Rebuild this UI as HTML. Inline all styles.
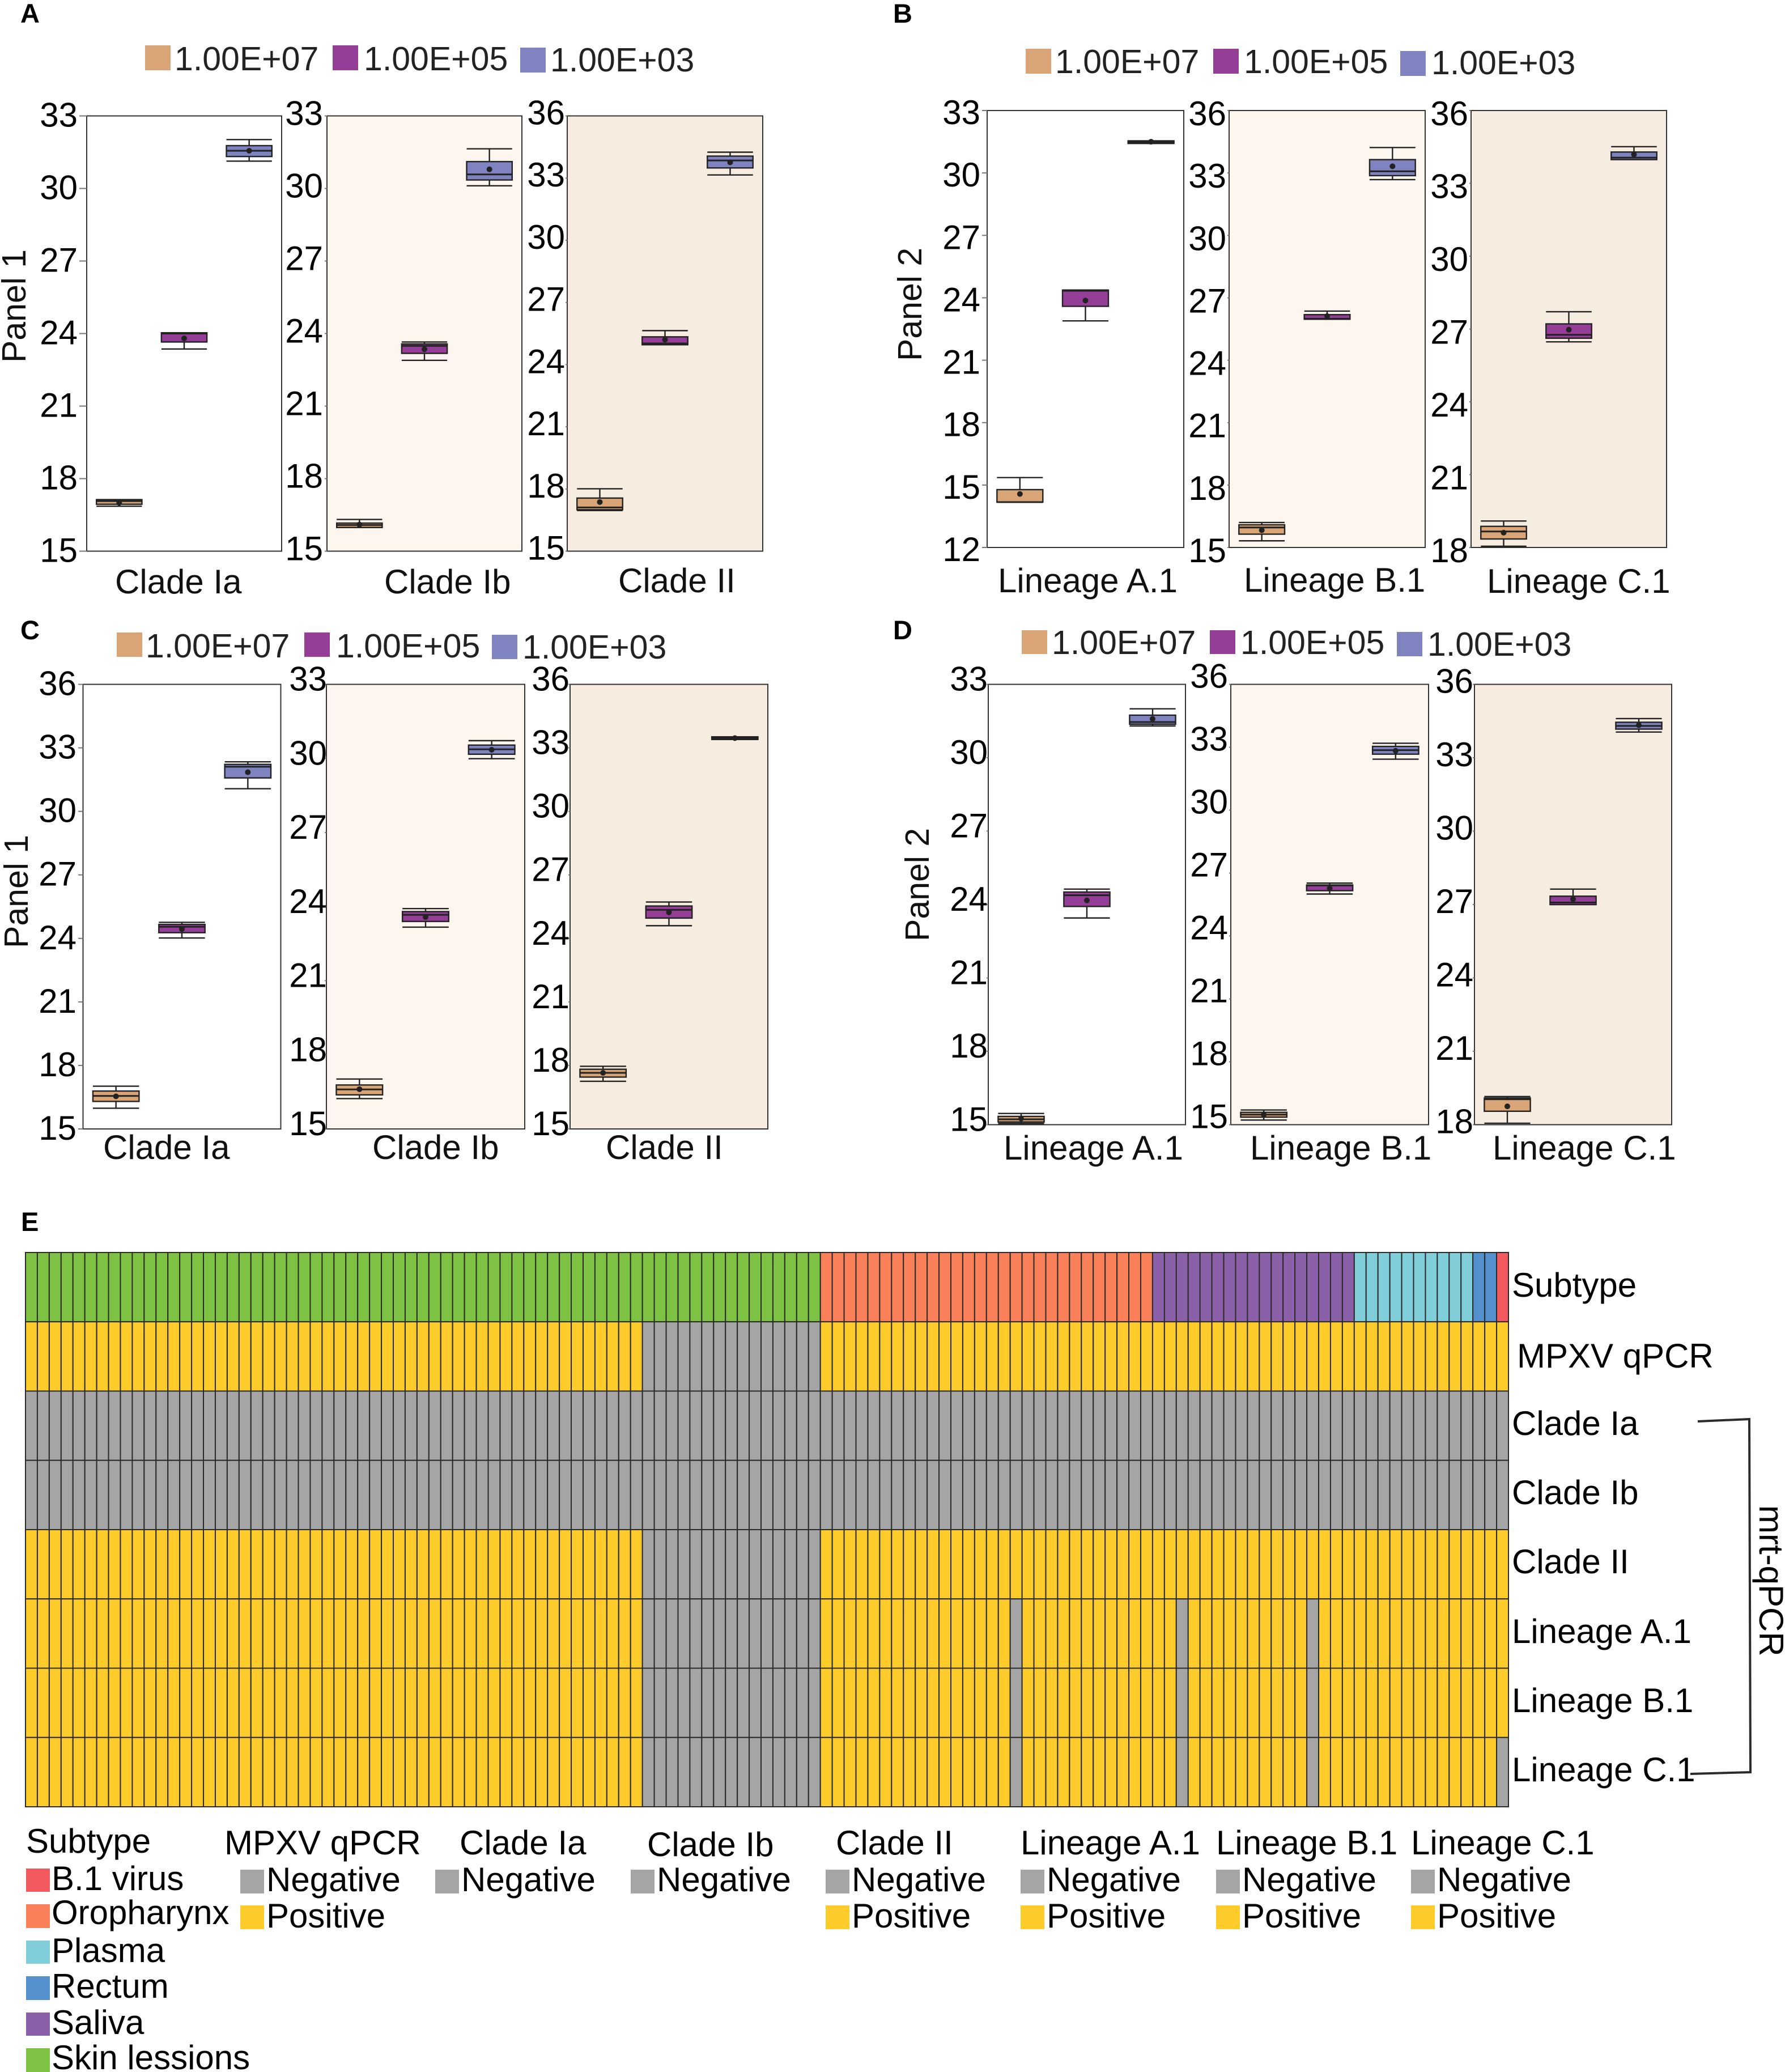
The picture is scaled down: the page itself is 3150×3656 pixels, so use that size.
<!DOCTYPE html>
<html lang="en">
<head>
<meta charset="utf-8">
<title>mrt-qPCR box plots and heatmap</title>
<style>
html,body{margin:0;padding:0;background:#fff;}
svg{display:block;}
text{font-family:"Liberation Sans",sans-serif;}
.lg{font-size:59px;fill:#222;}
.lb{font-size:60px;fill:#111;}
.pl{font-size:47px;font-weight:bold;fill:#000;}
.yt{font-size:59px;fill:#111;}
.hl{font-size:60px;fill:#000;}
</style>
</head>
<body>
<svg id="figure" xmlns="http://www.w3.org/2000/svg" width="3150" height="3656" viewBox="0 0 3150 3656">
<rect x="0" y="0" width="3150" height="3656" fill="#fff"/>

<g id="plots"></g>
<g id="heatmap"></g>

<!-- panel letters -->
<text class="pl" x="36" y="40">A</text>
<text class="pl" x="1576" y="40">B</text>
<text class="pl" x="36" y="1128">C</text>
<text class="pl" x="1576" y="1128">D</text>
<text class="pl" x="37" y="2172">E</text>

<!-- legend A -->
<g>
<rect x="256" y="80" width="45" height="44" fill="#D9A577"/>
<text class="lg" x="308" y="124">1.00E+07</text>
<rect x="587" y="80" width="45" height="44" fill="#953E97"/>
<text class="lg" x="642" y="124">1.00E+05</text>
<rect x="918" y="84" width="45" height="44" fill="#7F84C0"/>
<text class="lg" x="971" y="126">1.00E+03</text>
</g>
<!-- legend B -->
<g>
<rect x="1810" y="86" width="45" height="44" fill="#D9A577"/>
<text class="lg" x="1862" y="129">1.00E+07</text>
<rect x="2141" y="86" width="45" height="44" fill="#953E97"/>
<text class="lg" x="2195" y="129">1.00E+05</text>
<rect x="2471" y="90" width="45" height="44" fill="#7F84C0"/>
<text class="lg" x="2526" y="131">1.00E+03</text>
</g>
<!-- legend C -->
<g>
<rect x="206" y="1116" width="45" height="43" fill="#D9A577"/>
<text class="lg" x="257" y="1160">1.00E+07</text>
<rect x="537" y="1116" width="45" height="43" fill="#953E97"/>
<text class="lg" x="593" y="1160">1.00E+05</text>
<rect x="868" y="1120" width="45" height="43" fill="#7F84C0"/>
<text class="lg" x="922" y="1162">1.00E+03</text>
</g>
<!-- legend D -->
<g>
<rect x="1803" y="1112" width="45" height="42" fill="#D9A577"/>
<text class="lg" x="1856" y="1154">1.00E+07</text>
<rect x="2135" y="1112" width="45" height="42" fill="#953E97"/>
<text class="lg" x="2189" y="1154">1.00E+05</text>
<rect x="2465" y="1115" width="45" height="43" fill="#7F84C0"/>
<text class="lg" x="2519" y="1157">1.00E+03</text>
</g>

<!-- y axis titles -->
<text class="yt" transform="translate(45,640) rotate(-90)">Panel 1</text>
<text class="yt" transform="translate(1626,637) rotate(-90)">Panel 2</text>
<text class="yt" transform="translate(49,1673) rotate(-90)">Panel 1</text>
<text class="yt" transform="translate(1639,1661) rotate(-90)">Panel 2</text>

<!-- x labels -->
<text class="lb" x="203" y="1047">Clade Ia</text>
<text class="lb" x="678" y="1047">Clade Ib</text>
<text class="lb" x="1091" y="1045">Clade II</text>
<text class="lb" x="1761" y="1045">Lineage A.1</text>
<text class="lb" x="2195" y="1044">Lineage B.1</text>
<text class="lb" x="2624" y="1046">Lineage C.1</text>
<text class="lb" x="182" y="2045">Clade Ia</text>
<text class="lb" x="657" y="2045">Clade Ib</text>
<text class="lb" x="1069" y="2045">Clade II</text>
<text class="lb" x="1771" y="2046">Lineage A.1</text>
<text class="lb" x="2206" y="2046">Lineage B.1</text>
<text class="lb" x="2634" y="2046">Lineage C.1</text>

<!-- heatmap row labels -->
<text class="hl" x="2668" y="2288">Subtype</text>
<text class="hl" x="2677" y="2413">MPXV qPCR</text>
<text class="hl" x="2668" y="2532">Clade Ia</text>
<text class="hl" x="2668" y="2654">Clade Ib</text>
<text class="hl" x="2668" y="2776">Clade II</text>
<text class="hl" x="2668" y="2899">Lineage A.1</text>
<text class="hl" x="2668" y="3021">Lineage B.1</text>
<text class="hl" x="2668" y="3143">Lineage C.1</text>
<polyline points="2996,2508 3087,2504 3089,3127 2983,3130" fill="none" stroke="#2b2b2b" stroke-width="4"/>
<text class="hl" transform="translate(3105,2656) rotate(90)">mrt-qPCR</text>

<!-- heatmap legend -->
<g>
<text class="hl" x="46" y="3269">Subtype</text>
<rect x="46" y="3297" width="42" height="41" fill="#F35A60"/>
<text class="hl" x="91" y="3335">B.1 virus</text>
<rect x="46" y="3360" width="42" height="42" fill="#F98058"/>
<text class="hl" x="91" y="3395">Oropharynx</text>
<rect x="46" y="3424" width="42" height="41" fill="#80CED9"/>
<text class="hl" x="91" y="3462">Plasma</text>
<rect x="46" y="3487" width="42" height="42" fill="#5590CE"/>
<text class="hl" x="91" y="3525">Rectum</text>
<rect x="46" y="3551" width="42" height="41" fill="#8A60A8"/>
<text class="hl" x="91" y="3589">Saliva</text>
<rect x="46" y="3614" width="42" height="42" fill="#7DC242"/>
<text class="hl" x="91" y="3651">Skin lessions</text>

<text class="hl" x="396" y="3272">MPXV qPCR</text>
<rect x="424" y="3299" width="42" height="42" fill="#A5A5A5"/>
<text class="hl" x="470" y="3337">Negative</text>
<rect x="424" y="3362" width="42" height="42" fill="#FDCC2B"/>
<text class="hl" x="470" y="3401">Positive</text>

<text class="hl" x="811" y="3272">Clade Ia</text>
<rect x="768" y="3299" width="42" height="42" fill="#A5A5A5"/>
<text class="hl" x="814" y="3337">Negative</text>

<text class="hl" x="1142" y="3275">Clade Ib</text>
<rect x="1113" y="3299" width="42" height="42" fill="#A5A5A5"/>
<text class="hl" x="1159" y="3337">Negative</text>

<text class="hl" x="1475" y="3272">Clade II</text>
<rect x="1457" y="3299" width="42" height="42" fill="#A5A5A5"/>
<text class="hl" x="1503" y="3337">Negative</text>
<rect x="1457" y="3362" width="42" height="42" fill="#FDCC2B"/>
<text class="hl" x="1503" y="3401">Positive</text>

<text class="hl" x="1801" y="3272">Lineage A.1</text>
<rect x="1801" y="3299" width="42" height="42" fill="#A5A5A5"/>
<text class="hl" x="1847" y="3337">Negative</text>
<rect x="1801" y="3362" width="42" height="42" fill="#FDCC2B"/>
<text class="hl" x="1847" y="3401">Positive</text>

<text class="hl" x="2146" y="3272">Lineage B.1</text>
<rect x="2146" y="3299" width="42" height="42" fill="#A5A5A5"/>
<text class="hl" x="2192" y="3337">Negative</text>
<rect x="2146" y="3362" width="42" height="42" fill="#FDCC2B"/>
<text class="hl" x="2192" y="3401">Positive</text>

<text class="hl" x="2490" y="3272">Lineage C.1</text>
<rect x="2490" y="3299" width="42" height="42" fill="#A5A5A5"/>
<text class="hl" x="2536" y="3337">Negative</text>
<rect x="2490" y="3362" width="42" height="42" fill="#FDCC2B"/>
<text class="hl" x="2536" y="3401">Positive</text>
</g>
</svg>

<script>
// Each box array: [whisker low, q1, median, q3, whisker high, mean]
const concentrations = ['1.00E+07', '1.00E+05', '1.00E+03'];
const ticks33to15 = [33, 30, 27, 24, 21, 18, 15];
const ticks36to15 = [36, 33, 30, 27, 24, 21, 18, 15];
const ticks33to12 = [33, 30, 27, 24, 21, 18, 15, 12];
const ticks36to18 = [36, 33, 30, 27, 24, 21, 18];

const aCladeIa1e7 = [16.86, 16.94, 17.07, 17.13, 17.13, 17.0];
const aCladeIa1e5 = [23.36, 23.65, 24.0, 24.03, 24.03, 23.8];
const aCladeIa1e3 = [31.13, 31.32, 31.56, 31.77, 32.02, 31.56];
const aCladeIb1e7 = [15.98, 15.98, 16.08, 16.16, 16.31, 16.1];
const aCladeIb1e5 = [22.89, 23.18, 23.49, 23.57, 23.65, 23.35];
const aCladeIb1e3 = [30.11, 30.35, 30.58, 31.11, 31.64, 30.79];
const aCladeII1e7 = [16.96, 17.0, 17.11, 17.56, 18.01, 17.37];
const aCladeII1e5 = [24.96, 24.96, 25.02, 25.34, 25.64, 25.2];
const aCladeII1e3 = [33.15, 33.49, 33.85, 34.06, 34.25, 33.76];

const bLineageA1e7 = [14.18, 14.18, 14.18, 14.78, 15.36, 14.57];
const bLineageA1e5 = [22.89, 23.59, 24.34, 24.37, 24.37, 23.87];
const bLineageA1e3 = [31.42, 31.42, 31.48, 31.54, 31.54, 31.5];
const bLineageB1e7 = [15.32, 15.64, 15.96, 16.09, 16.2, 15.83];
const bLineageB1e5 = [25.97, 25.97, 25.99, 26.19, 26.36, 26.12];
const bLineageB1e3 = [32.68, 32.87, 33.08, 33.64, 34.22, 33.32];
const bLineageC1e7 = [18.05, 18.35, 18.66, 18.87, 19.09, 18.61];
const bLineageC1e5 = [26.47, 26.62, 26.76, 27.21, 27.71, 26.97];
const bLineageC1e3 = [33.98, 33.98, 34.06, 34.29, 34.51, 34.19];

const cCladeIa1e7 = [15.98, 16.3, 16.56, 16.79, 17.02, 16.54];
const cCladeIa1e5 = [24.02, 24.27, 24.55, 24.66, 24.76, 24.44];
const cCladeIa1e3 = [31.07, 31.58, 32.11, 32.22, 32.34, 31.85];
const cCladeIb1e7 = [16.23, 16.38, 16.6, 16.78, 17.02, 16.61];
const cCladeIb1e5 = [23.17, 23.4, 23.67, 23.8, 23.92, 23.58];
const cCladeIb1e3 = [29.99, 30.17, 30.37, 30.54, 30.72, 30.35];
const cCladeII1e7 = [17.25, 17.45, 17.65, 17.82, 17.96, 17.65];
const cCladeII1e5 = [24.6, 24.96, 25.35, 25.53, 25.72, 25.23];
const cCladeII1e3 = [33.4, 33.4, 33.46, 33.52, 33.52, 33.46];

const dLineageA1e7 = [15.05, 15.11, 15.22, 15.34, 15.46, 15.25];
const dLineageA1e5 = [23.45, 23.92, 24.38, 24.51, 24.63, 24.17];
const dLineageA1e3 = [31.3, 31.37, 31.46, 31.74, 32.0, 31.59];
const dLineageB1e7 = [15.22, 15.36, 15.48, 15.59, 15.7, 15.48];
const dLineageB1e5 = [26.0, 26.16, 26.41, 26.43, 26.52, 26.27];
const dLineageB1e3 = [32.43, 32.67, 32.86, 33.04, 33.19, 32.83];
const dLineageC1e7 = [18.06, 18.55, 19.04, 19.09, 19.15, 18.75];
const dLineageC1e5 = [27.0, 27.0, 27.08, 27.34, 27.63, 27.22];
const dLineageC1e3 = [34.05, 34.17, 34.3, 34.45, 34.6, 34.33];

// Heatmap: run-length encoded sample calls, left to right
const subtypeRuns = [['Skin lessions', 67], ['Oropharynx', 28], ['Saliva', 17], ['Plasma', 10], ['Rectum', 2], ['B.1 virus', 1]];
const mpxvRuns = [['Positive', 52], ['Negative', 15], ['Positive', 58]];
const cladeIaRuns = [['Negative', 125]];
const cladeIbRuns = [['Negative', 125]];
const cladeIIRuns = [['Positive', 52], ['Negative', 15], ['Positive', 58]];
const lineageARuns = [['Positive', 52], ['Negative', 15], ['Positive', 16], ['Negative', 1], ['Positive', 13], ['Negative', 1], ['Positive', 10], ['Negative', 1], ['Positive', 16]];
const lineageBRuns = [['Positive', 52], ['Negative', 15], ['Positive', 16], ['Negative', 1], ['Positive', 13], ['Negative', 1], ['Positive', 10], ['Negative', 1], ['Positive', 16]];
const lineageCRuns = [['Positive', 52], ['Negative', 15], ['Positive', 16], ['Negative', 1], ['Positive', 13], ['Negative', 1], ['Positive', 10], ['Negative', 1], ['Positive', 15], ['Negative', 1]];
const heatmapRowNames = ['subtype', 'mpxv-qpcr', 'clade-ia', 'clade-ib', 'clade-ii', 'lineage-a1', 'lineage-b1', 'lineage-c1'];

const SVGNS = 'http://www.w3.org/2000/svg';
const seriesFill = ['#D9A577', '#953E97', '#7F84C0'];
const panelBg = ['#FFFFFF', '#FCF6EF', '#F6ECDF'];
const cellColor = {
  'Skin lessions': '#7DC242', 'Oropharynx': '#F98058', 'Saliva': '#8A60A8',
  'Plasma': '#80CED9', 'Rectum': '#5590CE', 'B.1 virus': '#F35A60',
  'Positive': '#FDCC2B', 'Negative': '#A5A5A5'
};

function svgEl(tag, attrs, parent) {
  const el = document.createElementNS(SVGNS, tag);
  for (const k in attrs) el.setAttribute(k, attrs[k]);
  parent.appendChild(el);
  return el;
}

const plotLayouts = [
  {id:'a-clade-ia', x0:153,  x1:497,  top:204.5, bot:972.5, ticks:ticks33to15, labelRight:137,  labelDy:-2, bg:0, boxes:[aCladeIa1e7,aCladeIa1e5,aCladeIa1e3]},
  {id:'a-clade-ib', x0:577,  x1:921,  top:204.5, bot:972.5, ticks:ticks33to15, labelRight:570,  labelDy:-5, bg:1, boxes:[aCladeIb1e7,aCladeIb1e5,aCladeIb1e3]},
  {id:'a-clade-ii', x0:1001, x1:1346, top:204.5, bot:972.5, ticks:ticks36to15, labelRight:997,  labelDy:-6, bg:2, boxes:[aCladeII1e7,aCladeII1e5,aCladeII1e3]},
  {id:'b-lineage-a1', x0:1742, x1:2089, top:195, bot:966, ticks:ticks33to12, labelRight:1730, labelDy:3, bg:0, boxes:[bLineageA1e7,bLineageA1e5,bLineageA1e3]},
  {id:'b-lineage-b1', x0:2169, x1:2515, top:195, bot:966, ticks:ticks36to15, labelRight:2164, labelDy:5, bg:1, boxes:[bLineageB1e7,bLineageB1e5,bLineageB1e3]},
  {id:'b-lineage-c1', x0:2596, x1:2941, top:195, bot:966, ticks:ticks36to18, labelRight:2591, labelDy:5, bg:2, boxes:[bLineageC1e7,bLineageC1e5,bLineageC1e3]},
  {id:'c-clade-ia', x0:146.5, x1:495.5, top:1207.5, bot:1992, ticks:ticks36to15, labelRight:135,  labelDy:-2,  bg:0, boxes:[cCladeIa1e7,cCladeIa1e5,cCladeIa1e3]},
  {id:'c-clade-ib', x0:576,   x1:926,   top:1207.5, bot:1992, ticks:ticks33to15, labelRight:577,  labelDy:-10, bg:1, boxes:[cCladeIb1e7,cCladeIb1e5,cCladeIb1e3]},
  {id:'c-clade-ii', x0:1006,  x1:1355,  top:1207.5, bot:1992, ticks:ticks36to15, labelRight:1005, labelDy:-10, bg:2, boxes:[cCladeII1e7,cCladeII1e5,cCladeII1e3]},
  {id:'d-lineage-a1', x0:1744, x1:2092, top:1207.5, bot:1984.5, ticks:ticks33to15, labelRight:1743, labelDy:-10, bg:0, boxes:[dLineageA1e7,dLineageA1e5,dLineageA1e3]},
  {id:'d-lineage-b1', x0:2172, x1:2521, top:1207.5, bot:1984.5, ticks:ticks36to15, labelRight:2167, labelDy:-15, bg:1, boxes:[dLineageB1e7,dLineageB1e5,dLineageB1e3]},
  {id:'d-lineage-c1', x0:2602, x1:2950, top:1207.5, bot:1984.5, ticks:ticks36to18, labelRight:2600, labelDy:-6,  bg:2, boxes:[dLineageC1e7,dLineageC1e5,dLineageC1e3]}
];

function drawPlot(layout) {
  const root = document.getElementById('plots');
  const g = svgEl('g', {}, root);
  
  
  const hi = layout.ticks[0];
  const lo = layout.ticks[layout.ticks.length - 1];
  const yScale = v => layout.bot - (v - lo) / (hi - lo) * (layout.bot - layout.top);
  const band = (layout.x1 - layout.x0) / concentrations.length;
  const xScale = i => layout.x0 + band * (i + 0.5);
  const boxW = band * 0.7;

  const frame = svgEl('rect', {x:layout.x0, y:layout.top, width:layout.x1 - layout.x0, height:layout.bot - layout.top, fill:panelBg[layout.bg], stroke:'#333', 'stroke-width':2}, g);
  
  

  layout.ticks.forEach(t => {
    const y = yScale(t);
    const tick = svgEl('line', {x1:Math.min(layout.labelRight + 3, layout.x0 - 3), x2:layout.x0, y1:y, y2:y, stroke:'#777', 'stroke-width':2}, g);
    
    
    const label = svgEl('text', {x:layout.labelRight, y:y + layout.labelDy + 21, 'text-anchor':'end', 'font-size':60, fill:'#000'}, g);
    
    
    label.textContent = String(t);
  });

  layout.boxes.forEach((b, i) => {
    const cx = xScale(i);
    const left = cx - boxW / 2;
    const right = cx + boxW / 2;
    const boxGroup = svgEl('g', {stroke:'#222', 'stroke-width':2.4, fill:'none'}, g);
    
    

    const whisker = svgEl('line', {x1:cx, x2:cx, y1:yScale(b[4]), y2:yScale(b[0])}, boxGroup);
    
    

    const capHigh = svgEl('line', {x1:left, x2:right, y1:yScale(b[4]), y2:yScale(b[4])}, boxGroup);
    
    

    const capLow = svgEl('line', {x1:left, x2:right, y1:yScale(b[0]), y2:yScale(b[0])}, boxGroup);
    
    

    const box = svgEl('rect', {x:left, y:yScale(b[3]), width:boxW, height:yScale(b[1]) - yScale(b[3]), fill:seriesFill[i]}, boxGroup);
    
    

    const median = svgEl('line', {x1:left, x2:right, y1:yScale(b[2]), y2:yScale(b[2]), 'stroke-width':3}, boxGroup);
    
    

    const mean = svgEl('circle', {cx:cx, cy:yScale(b[5]), r:5, fill:'#222', stroke:'none'}, boxGroup);
    
    
  });
}

plotLayouts.forEach(drawPlot);

function drawHeatmap() {
  const root = document.getElementById('heatmap');
  const rows = [subtypeRuns, mpxvRuns, cladeIaRuns, cladeIbRuns, cladeIIRuns, lineageARuns, lineageBRuns, lineageCRuns];
  const left = 45, right = 2662, top = 2210, bottom = 3188;
  const nCols = subtypeRuns.reduce((s, r) => s + r[1], 0);
  const colW = (right - left) / nCols;
  const rowH = (bottom - top) / rows.length;
  rows.forEach((runs, ri) => {
    let col = 0;
    runs.forEach(run => {
      for (let k = 0; k < run[1]; k++) {
        const cell = svgEl('rect', {x:left + col * colW, y:top + ri * rowH, width:colW, height:rowH, fill:cellColor[run[0]], stroke:'#2a2a2a', 'stroke-width':2}, root);
        
        
        col++;
      }
    });
  });
}

drawHeatmap();
</script>
</body>
</html>
